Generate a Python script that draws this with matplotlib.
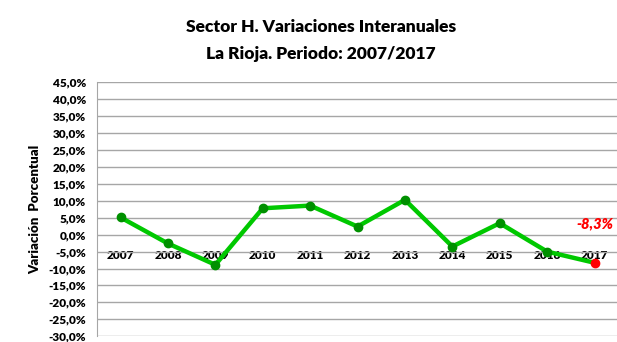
import numpy as np
import matplotlib.pyplot as plt
from matplotlib.ticker import FuncFormatter

# data -------------------------------------------
years = ['2007', '2008', '2009', '2010', '2011', '2012',
         '2013', '2014', '2015', '2016', '2017']
variacion = [5.1, -2.6, -8.9, 7.8, 8.6, 2.4, 10.3, -3.5, 3.4, -5.0, -8.3]

y_ticks = np.arange(-30, 46, 5)

def pct(v):
    # spanish style decimal comma
    return ('%.1f%%' % v).replace('.', ',')

# figure -----------------------------------------
plt.rcParams['font.family'] = ['Lato', 'DejaVu Sans']
fig = plt.figure(figsize=(6.17, 3.42), dpi=100)
ax = fig.add_axes([0.157, 0.017, 0.845, 0.742])

x = np.arange(len(years))
ax.plot(x, variacion, color='#00C800', linewidth=3.2, zorder=3)
ax.plot(x[:-1], variacion[:-1], 'o', color='#009000', markersize=6, zorder=4)
ax.plot(x[-1], variacion[-1], 'o', color='#FF0000', markersize=6, zorder=4)

# last value label
ax.annotate(pct(variacion[-1]), (x[-1], variacion[-1]),
            xytext=(0, 25), textcoords='offset points', ha='center',
            color='#FF0000', fontsize=10.5, fontweight='heavy', style='italic')

# axes -------------------------------------------
ax.spines['bottom'].set_position(('data', 0))
ax.spines['bottom'].set_visible(False)
ax.set_xlim(-0.5, len(years) - 0.5)
ax.set_ylim(-30, 45)
ax.set_yticks(y_ticks)
ax.yaxis.set_major_formatter(FuncFormatter(lambda v, p: pct(v)))
ax.grid(axis='y', color='#A6A6A6', linewidth=1)
ax.set_axisbelow(True)

ax.set_xticks(x)
ax.set_xticklabels(years, fontsize=8.5, fontweight='heavy')
ax.tick_params(axis='x', length=0, pad=11)
ax.tick_params(axis='y', length=0, pad=8, labelsize=8.5)
for lab in ax.get_yticklabels():
    lab.set_fontweight('heavy')

for s in ['top', 'right']:
    ax.spines[s].set_visible(False)
ax.spines['left'].set_color('#A6A6A6')

ax.set_ylabel('Variación  Porcentual', fontsize=9.5, fontweight='heavy', labelpad=5)

fig.text(0.52, 0.905, 'Sector H. Variaciones Interanuales', ha='center',
         fontsize=12.5, fontweight='heavy')
fig.text(0.52, 0.828, 'La Rioja. Periodo: 2007/2017', ha='center',
         fontsize=12.5, fontweight='heavy')

fig.savefig('out.png', dpi=100)
